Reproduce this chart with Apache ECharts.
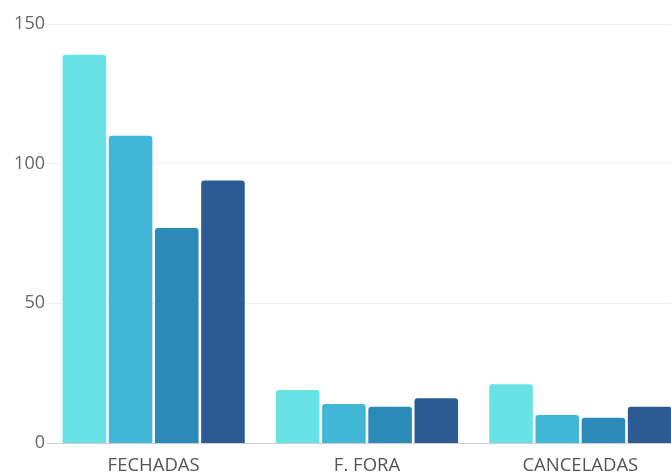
<!DOCTYPE html>
<html>
<head>
<meta charset="utf-8">
<script src="https://cdn.jsdelivr.net/npm/echarts@6/dist/echarts.min.js"></script>
<style>
html,body{margin:0;padding:0;background:#fff;}
#chart{width:671px;height:472px;}
</style>
</head>
<body>
<div id="chart"></div>
<script>
const categories = ['FECHADAS', 'F. FORA', 'CANCELADAS'];
const serie1 = [139, 19, 21];
const serie2 = [110, 14, 10];
const serie3 = [77, 13, 9];
const serie4 = [94, 16, 13];
const yTicks = [0, 50, 100, 150];
const colors = ['#69e2e6', '#42b7d5', '#2b8ab8', '#2c5b94'];

const chart = echarts.init(document.getElementById('chart'));
const seriesData = [serie1, serie2, serie3, serie4];
chart.setOption({
  animation: false,
  grid: { left: 47, width: 640, top: 24, height: 419, containLabel: false, outerBoundsMode: 'none' },
  xAxis: {
    type: 'category',
    data: categories,
    axisLine: { lineStyle: { color: '#cfcfcf', width: 1 } },
    axisTick: { show: false },
    axisLabel: { color: '#555', fontSize: 18.5, fontFamily: 'Open Sans', margin: 13 }
  },
  yAxis: {
    type: 'value',
    min: yTicks[0],
    max: yTicks[yTicks.length - 1],
    interval: 50,
    axisLine: { show: false },
    axisTick: { show: false },
    splitLine: { lineStyle: { color: '#ececec', width: 1 } },
    axisLabel: { color: '#666', fontSize: 18, fontFamily: 'Open Sans', margin: 2 }
  },
  series: seriesData.map((d, i) => ({
    type: 'bar',
    data: d,
    barGap: '6%',
    barCategoryGap: '14.6%',
    itemStyle: { color: colors[i], borderRadius: [3, 3, 0, 0] }
  }))
});
</script>
</body>
</html>
